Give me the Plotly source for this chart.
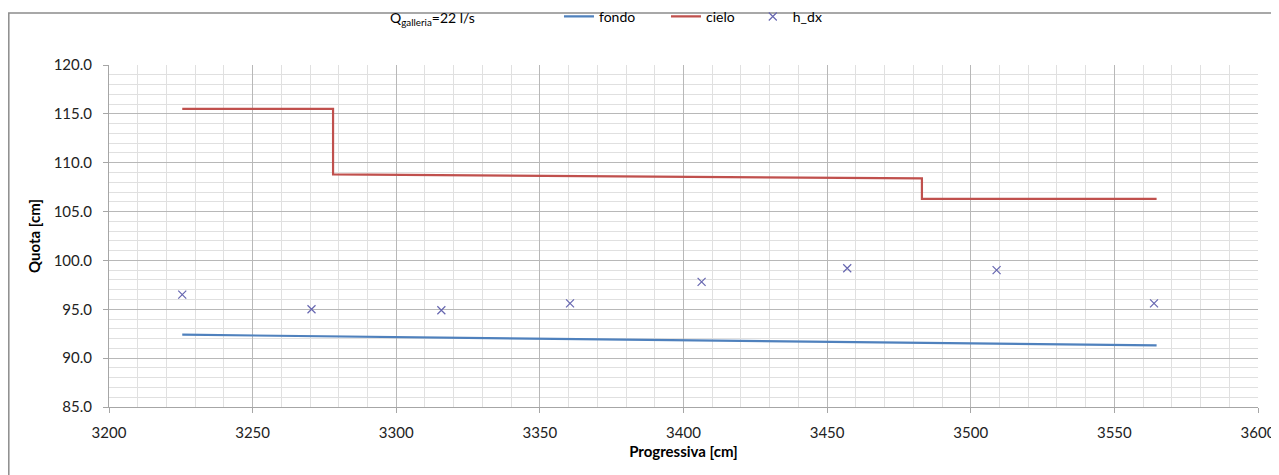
import plotly.graph_objects as go

# data
fondo_x = [3225.5, 3564.7]
fondo_y = [92.4, 91.3]

cielo_x = [3225.5, 3278.0, 3278.0, 3483.0, 3483.0, 3564.7]
cielo_y = [115.5, 115.5, 108.8, 108.4, 106.3, 106.3]

hdx_x = [3225.5, 3270.5, 3315.7, 3360.5, 3406.3, 3457.0, 3509.0, 3563.8]
hdx_y = [96.5, 95.0, 94.9, 95.6, 97.8, 99.2, 99.0, 95.6]

FONT = "Lato, 'Open Sans', sans-serif"

fig = go.Figure()
fig.add_trace(go.Scatter(x=fondo_x, y=fondo_y, mode='lines', name='fondo',
                         line=dict(color='#4F81BD', width=2.2)))
fig.add_trace(go.Scatter(x=cielo_x, y=cielo_y, mode='lines', name='cielo',
                         line=dict(color='#C0504D', width=2.2)))
fig.add_trace(go.Scatter(x=hdx_x, y=hdx_y, mode='markers', name='h_dx', legend='legend2',
                         marker=dict(symbol='x-thin-open', size=8, color='#6666B0',
                                     line=dict(color='#6666B0', width=1.2))))

fig.update_xaxes(range=[3200, 3600], dtick=50, tickformat='d', automargin=False,
                 showgrid=True, gridcolor='#B8B8B8', gridwidth=1,
                 minor=dict(dtick=10, showgrid=True, gridcolor='#E0E0E0', gridwidth=1),
                 showline=True, linecolor='#A6A6A6', linewidth=1,
                 ticks='outside', ticklen=5, tickcolor='#A6A6A6',
                 ticklabelstandoff=7, ticklabeloverflow='allow', zeroline=False,
                 title=dict(text='<b>Progressiva [cm]</b>', standoff=6,
                            font=dict(size=15, color='#000000')),
                 tickfont=dict(size=15, color='#222222'))
fig.update_yaxes(range=[85, 120], dtick=5, tickformat='.1f', automargin=False,
                 showgrid=True, gridcolor='#B8B8B8', gridwidth=1,
                 minor=dict(dtick=1, showgrid=True, gridcolor='#E0E0E0', gridwidth=1),
                 showline=True, linecolor='#A6A6A6', linewidth=1,
                 ticks='outside', ticklen=5, tickcolor='#A6A6A6',
                 ticklabelstandoff=8, zeroline=False,
                 title=dict(text='<b>Quota [cm]</b>', standoff=9,
                            font=dict(size=15, color='#000000')),
                 tickfont=dict(size=15, color='#222222'))

# outer chart border (left and top visible in the reference)
fig.add_shape(type='rect', xref='paper', yref='paper',
              x0=-0.0872, x1=1.1, y0=-0.4, y1=1.152,
              line=dict(color='#8C8C8C', width=1.5), layer='below')

fig.add_annotation(text='Q<sub>galleria</sub>=22 l/s', xref='paper', yref='paper',
                   x=0.243, y=1.135, xanchor='left', yanchor='middle', showarrow=False,
                   font=dict(family=FONT, size=14, color='#000000'))

# the page body adds an 8px offset, so the figure is 8px smaller than the window
fig.update_layout(
    width=1271, height=467,
    margin=dict(l=101, r=21, t=57, b=68, autoexpand=False),
    paper_bgcolor='white', plot_bgcolor='white',
    font=dict(family=FONT, size=14, color='#000000'),
    showlegend=True,
    legend=dict(orientation='h', xref='container', yref='container',
                x=0.4335, y=0.981, xanchor='left', yanchor='middle',
                font=dict(size=14), itemwidth=30, entrywidth=62,
                bgcolor='rgba(0,0,0,0)'),
    legend2=dict(orientation='h', xref='container', yref='container',
                 x=0.586, y=0.981, xanchor='left', yanchor='middle',
                 font=dict(size=14), itemwidth=30,
                 bgcolor='rgba(0,0,0,0)'),
)

fig.write_html("out.html")
